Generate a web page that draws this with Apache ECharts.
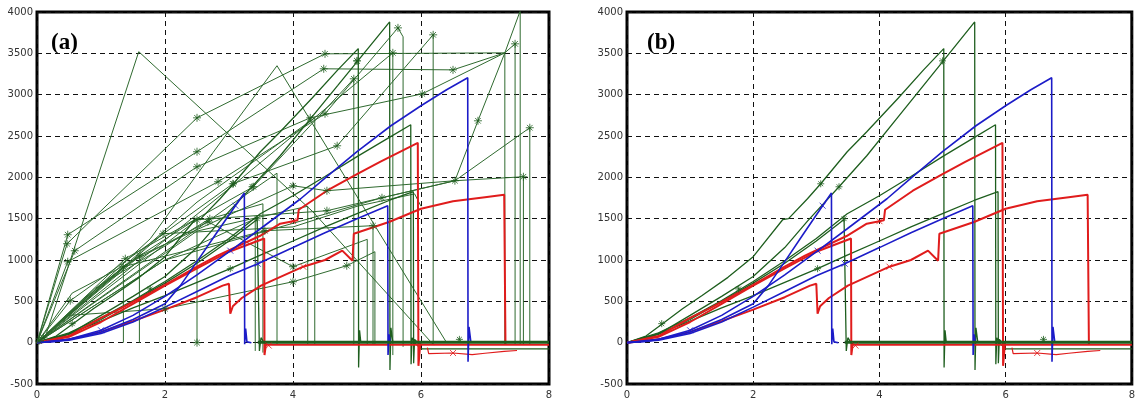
<!DOCTYPE html>
<html><head><meta charset="utf-8">
<script src="https://cdn.jsdelivr.net/npm/echarts@6/dist/echarts.min.js"></script>
<style>html,body{margin:0;padding:0;background:#fff}#c{width:1138px;height:403px}</style>
</head><body><div id="c"></div>
<script>
const xTicks=[0,2,4,6,8];
const yTicks=[-500,0,500,1000,1500,2000,2500,3000,3500,4000];
const panelLabels=['(a)','(b)'];

// blue curves
const blue1=[[0,0],[0.3,15],[0.6,55],[1,130],[1.5,280],[2,470],[2.24,690],[2.5,980],[2.8,1320],[3.1,1657],[3.24,1810],[3.245,-20],[3.26,170],[3.28,10],[3.35,0]];
const blue2=[[0,0],[0.5,30],[1,110],[1.5,250],[2,430],[2.5,620],[3,810],[3.45,955],[4,1150],[4.5,1330],[5,1500],[5.48,1657],[5.485,-150],[5.5,100],[5.52,0]];
const blue3=[[0,0],[0.5,40],[1,150],[1.5,330],[2,560],[2.5,820],[3.02,1110],[3.49,1378],[4.12,1741],[4.5,1990],[5,2310],[5.53,2624],[6,2866],[6.4,3060],[6.73,3205],[6.735,-230],[6.75,190],[6.78,0]];
// red curves
const red1=[[0,0],[0.5,40],[1,130],[1.5,260],[2,400],[2.5,550],[2.9,690],[3.0,712],[3.02,350],[3.06,440],[3.2,540],[3.5,690],[4.16,919],[4.5,1000],[4.77,1113],[4.93,990],[4.95,1318],[5.5,1460],[6,1620],[6.5,1710],[7,1760],[7.3,1790],[7.32,-20]];
const red2=[[0,0],[0.5,80],[1,300],[1.3,411],[2,700],[2.5,920],[2.82,1052],[3.48,1290],[3.8,1439],[4.0,1470],[4.07,1480],[4.09,1608],[4.53,1838],[5,2040],[5.36,2188],[5.95,2418],[5.96,-280],[5.99,0]];
const red3=[[0,0],[0.5,70],[1,250],[1.5,470],[2,690],[2.5,900],[3,1100],[3.55,1260],[3.555,-150],[3.58,0]];
const redNeg=[[6.1,-60],[6.12,-133],[6.5,-125],[6.8,-145],[7.0,-128],[7.3,-105],[7.5,-95]];
const redBase=[[3.55,-25],[8,-25]];
// green curves
const green1=[[0,0],[0.3,80],[0.6,250],[0.88,411],[1.19,570],[1.6,790],[2.0,1040],[2.47,1490],[2.56,1500],[2.86,1741],[3.07,1922],[3.49,2309],[3.8,2551],[4.3,2960],[4.7,3300],[5.02,3557],[5.025,-300],[5.04,150],[5.06,0]];
const green2=[[0,0],[0.3,40],[0.6,150],[1,330],[1.5,560],[2,800],[2.5,1150],[2.86,1470],[3.36,1886],[3.8,2261],[4.3,2735],[4.7,3113],[5.0,3397],[5.51,3880],[5.515,-330],[5.53,180],[5.56,0]];
const green3=[[0,0],[0.5,120],[1,300],[1.5,510],[2,740],[2.5,990],[3,1260],[3.49,1560],[4,1777],[4.5,2010],[5,2250],[5.5,2480],[5.84,2636],[5.845,-260],[5.86,60],[5.9,0],[6.0,-75],[8,-75]];
const green4=[[0,0],[0.5,110],[1,260],[1.5,420],[2,570],[2.5,730],[3.02,895],[3.49,1060],[4,1230],[4.5,1400],[5,1560],[5.5,1720],[5.88,1826],[5.885,-250],[5.9,40],[5.95,0]];
const green5=[[0,0],[0.5,100],[1,280],[1.5,500],[2,720],[2.5,960],[3,1230],[3.44,1490],[3.47,1500],[3.475,-100],[3.5,60],[3.55,0]];
const greenBase=[[3.45,5],[8,5]];
// markers
const starsB=[[0.55,230],[1.77,650],[3.02,895],[3.07,1922],[3.36,1886],[3.44,1500],[5.0,3409],[6.6,40]];
const blueX=[[1.0,150],[3.1,1657],[3.02,1113],[3.45,955]];
const redX=[[4.0,1470],[4.16,919],[6.5,-125],[3.62,-35]];
// erratic green traces of panel (a)
const traceA1=[[0.1,0],[0.58,1137],[1.59,3520],[4.31,1584],[6.2,-30]];
const traceA2=[[0,0],[0.6,420],[1.77,1257],[2.75,2300],[3.75,3350],[5.05,1705],[6.4,0]];
const traceA3=[[0,0],[0.47,1197],[2.5,2720],[4.5,3494],[7.31,3506],[7.55,4014],[7.55,-20]];
const traceA4=[[0,0],[0.48,1306],[2.5,2310],[4.48,3313],[6.5,3300],[7.31,3506],[7.47,3615],[7.47,-20]];
const traceA5=[[0,0],[0.59,1112],[2.5,2128],[4.27,2720],[6.02,3010],[7.31,3506],[7.31,-20]];
const traceA6=[[0,0],[0.48,979],[2.83,1947],[4.5,2769],[5.64,3808],[5.72,3700],[5.72,-50]];
const traceA7=[[0,0],[0.52,508],[3.06,1922],[4.69,2382],[6.19,3724],[6.19,-20]];
const traceA8=[[0,0],[1.38,1016],[3.38,1886],[4.95,3192],[4.95,-20]];
const traceA9=[[0,0],[1.61,1052],[4.0,1898],[4.53,1838],[6.53,1959],[7.6,2007],[7.6,-20]];
const traceA10=[[0,0],[2.5,1487],[4.53,1596],[5.39,1753],[6.53,1959],[6.89,2684],[7.31,3506]];
const traceA11=[[0,0],[0.5,330],[2.0,411],[4.0,737],[4.84,931],[5.28,1100],[5.28,-20]];
const traceA12=[[0,0],[1.35,919],[3.56,1354],[5.25,1415],[5.25,-20]];
const traceA13=[[0,0],[0.55,600],[2.67,1463],[4.0,919],[5.16,1250],[5.16,-20]];
const traceA14=[[0,0],[1.0,700],[2.7,1499],[3.53,1680],[3.53,-120]];
const traceA15=[[0,0],[0.7,500],[1.35,919],[1.35,0]];
const traceA16=[[0,0],[0.9,650],[1.6,1052],[1.6,0]];
const traceA17=[[0,0],[1.5,1000],[2.5,1500],[2.5,0]];
const traceA18=[[0,0],[2.0,1000],[3.41,1500],[3.41,-100]];
const traceA19=[[0,0],[3.0,1650],[3.75,2050],[3.75,-20]];
const traceA20=[[0,0],[2.5,1350],[4.23,1650],[4.23,-20]];
const traceA21=[[0,0],[2.5,1700],[4.34,2720],[4.34,-20]];
const traceA22=[[0,0],[3.06,1900],[5.56,3506],[5.56,-150]];
const traceA23=[[0,0],[1.97,1318],[4.0,1400],[5.0,1650],[5.9,1800],[6.0,1650]];
const traceA24=[[0,0],[2.0,1000],[5.39,1753],[6.53,1959],[7.7,2600],[7.7,-20]];
const starsA=[[0.48,1306],[0.47,1197],[0.59,1112],[0.48,979],[0.52,508],[1.35,919],[1.38,1016],[1.61,1052],[1.97,1318],[2.0,411],[2.5,2720],[2.5,2310],[2.5,2128],[2.5,1487],[2.67,1463],[2.7,1499],[2.5,0],[2.83,1947],[3.06,1922],[3.38,1886],[3.56,1354],[4.0,1898],[4.0,919],[4.0,737],[4.27,2720],[4.48,3313],[4.5,3494],[4.5,2769],[4.53,1838],[4.53,1596],[4.69,2382],[4.84,931],[4.95,3192],[5.0,3409],[5.25,1415],[5.39,1753],[5.56,3506],[5.64,3808],[6.02,3010],[6.19,3724],[6.5,3300],[6.53,1959],[6.89,2684],[7.47,3615],[7.55,4014],[7.6,2007],[7.7,2600],[0.03,20],[0.1,60]];

const tracesA=[traceA1,traceA2,traceA3,traceA4,traceA5,traceA6,traceA7,traceA8,traceA9,traceA10,traceA11,traceA12,traceA13,traceA14,traceA15,traceA16,traceA17,traceA18,traceA19,traceA20,traceA21,traceA22,traceA23,traceA24];

const C_BLUE='#1c1cc8', C_RED='#e01c1c', C_GREEN='#1e5e1e', C_TRACE='#2f6a2f';
const STAR='path://M5,0L5,10M0,5L10,5M1.5,1.5L8.5,8.5M1.5,8.5L8.5,1.5';
const CROSS='path://M0,0L10,10M0,10L10,0';

function ln(data,color,width,gi,z){return {type:'line',xAxisIndex:gi,yAxisIndex:gi,data:data,symbol:'none',lineStyle:{color:color,width:width},z:z,silent:true,animation:false};}
function sc(data,color,sym,size,gi,z){return {type:'scatter',xAxisIndex:gi,yAxisIndex:gi,data:data,symbol:sym,symbolSize:size,itemStyle:{color:'none',borderColor:color,borderWidth:1},z:z,silent:true,animation:false};}

const series=[];
for(const t of tracesA) series.push(ln(t,C_TRACE,1,0,2));
for(let gi=0;gi<2;gi++){
  [green1,green2,green3,green4,green5].forEach(d=>series.push(ln(d,C_GREEN,1.3,gi,3)));
  series.push(ln(redBase,C_RED,2,gi,4));
  series.push(ln(redNeg,C_RED,1.2,gi,4));
  [red1,red2,red3].forEach(d=>series.push(ln(d,C_RED,2,gi,5)));
  [blue1,blue2,blue3].forEach(d=>series.push(ln(d,C_BLUE,1.6,gi,6)));
  series.push(ln(greenBase,C_GREEN,3,gi,7));
  series.push(sc(starsB,C_GREEN,STAR,7,gi,8));
  series.push(sc(blueX,C_BLUE,CROSS,6,gi,8));
  series.push(sc(redX,C_RED,CROSS,6,gi,8));
}
series.push(sc(starsA,C_GREEN,STAR,8,0,8));

const grids=[{left:37,top:12,width:512,bottom:19},{left:627,top:12,width:512,bottom:19}].map(g=>Object.assign(g,{show:true,borderColor:'#000',borderWidth:3,backgroundColor:'transparent',containLabel:false}));
const fmt=v=>String(v);
function xa(i){return {type:'value',gridIndex:i,min:xTicks[0],max:xTicks[xTicks.length-1],interval:xTicks[1]-xTicks[0],axisLine:{show:false},axisTick:{show:false},splitLine:{show:true,lineStyle:{color:'#111',type:[5,4],width:1}},axisLabel:{color:'#333',fontSize:10,fontFamily:'DejaVu Sans',margin:6,formatter:fmt}};}
function ya(i){return {type:'value',gridIndex:i,min:yTicks[0],max:yTicks[yTicks.length-1],interval:yTicks[1]-yTicks[0],axisLine:{show:false},axisTick:{show:false},splitLine:{show:true,lineStyle:{color:'#111',type:[5,4],width:1}},axisLabel:{color:'#333',fontSize:10,fontFamily:'DejaVu Sans',margin:4,formatter:fmt}};}

const chart=echarts.init(document.getElementById('c'),null,{renderer:'canvas'});
chart.setOption({
  animation:false,
  backgroundColor:'#fff',
  grid:grids,
  xAxis:[xa(0),xa(1)],
  yAxis:[ya(0),ya(1)],
  series:series,
  graphic:[
    {type:'text',left:51,top:32,z:100,style:{text:panelLabels[0],font:'bold 23px "Liberation Serif"',fill:'#000'}},
    {type:'text',left:647,top:32,z:100,style:{text:panelLabels[1],font:'bold 23px "Liberation Serif"',fill:'#000'}}
  ]
});
</script></body></html>
